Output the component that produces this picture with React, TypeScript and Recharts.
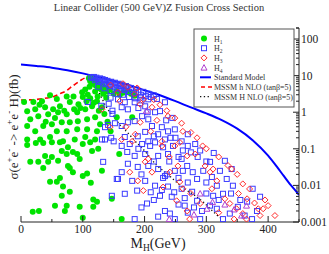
import { ComposedChart, Line, Scatter, XAxis, YAxis } from 'recharts'

const W = 329
const H = 254
const FONT = '"Liberation Serif", "DejaVu Serif", serif'

// axis ticks
const massTicks = [0, 50, 100, 150, 200, 250, 300, 350, 400, 450]
const massLabels = [0, 100, 200, 300, 400]
const sigmaMajor = [0.001, 0.01, 0.1, 1, 10, 100]
const sigmaTicks: number[] = []
sigmaMajor.forEach((d) => {
  for (let m = 1; m <= 9; m++) {
    const v = +(m * d).toPrecision(3)
    if (v <= 200) sigmaTicks.push(v)
  }
})
sigmaTicks.push(200)

// curves
const smMass = [0, 25, 50, 75, 100, 125, 150, 175, 200, 225, 250, 275, 300, 325, 350, 375, 400, 415, 425, 435, 442, 450]
const smSigma = [20, 18.3, 16.5, 14, 11.5, 9.2, 7.2, 5.5, 4.0, 2.9, 2.0, 1.35, 0.93, 0.61, 0.356, 0.172, 0.065, 0.031, 0.0184, 0.011, 0.008, 0.0055]
const mssmhMass = [0, 20, 42, 52, 63, 74, 80, 90, 98, 105, 110]
const mssmhSigma = [2.15, 2.2, 2.45, 2.65, 3.2, 3.9, 4.7, 6.2, 7.7, 8.9, 9.8]
const mssmHMass = [112, 118, 125, 131, 138, 145, 152, 160, 168, 175, 185, 195, 205, 220, 235, 250, 265, 280, 295, 310, 322]
const mssmHSigma = [9.5, 6, 3.8, 2.4, 1.4, 0.95, 0.7, 0.45, 0.33, 0.25, 0.16, 0.11, 0.07, 0.035, 0.022, 0.013, 0.008, 0.0055, 0.0035, 0.002, 0.0013]

// scan points [mass, sigma]
const h1Points = [
  [5, 1.9], [20, 1.9], [34, 2.0], [47, 2.9], [58, 2.3], [74, 2.7], [85, 2.7], [99, 3.5], [104, 4.2], [111, 5],
  [117, 6.5], [115, 7.8], [120, 3.7], [124, 2.7], [106, 2], [93, 1.65], [79, 1.9], [63, 1.45], [52, 1.2], [39, 1.37],
  [23, 1.2], [10, 1.07], [15, 0.64], [28, 0.78], [44, 0.88], [60, 1], [74, 0.88], [91, 1], [104, 1.2], [115, 1.45],
  [123, 2], [131, 1.37], [10, 0.42], [23, 0.3], [36, 0.42], [50, 0.47], [66, 0.53], [79, 0.53], [92, 0.57], [107, 0.64],
  [120, 0.73], [128, 0.47], [58, 0.3], [74, 0.3], [91, 0.34], [107, 0.34], [123, 0.3], [10, 0.18], [31, 0.18], [47, 0.21],
  [68, 0.16], [87, 0.18], [104, 0.21], [120, 0.18], [10, 0.127], [24, 0.144], [36, 0.144], [50, 0.15], [63, 0.15], [76, 0.11],
  [84, 0.082], [66, 0.087], [74, 0.072], [91, 0.072], [100, 0.135], [112, 0.15], [115, 0.087], [125, 0.1], [39, 0.064], [50, 0.06],
  [15, 0.044], [28, 0.044], [44, 0.044], [60, 0.047], [95, 0.053], [36, 0.03], [76, 0.034], [79, 0.03], [84, 0.023], [107, 0.021],
  [100, 0.018], [131, 0.025], [63, 0.016], [47, 0.0125], [58, 0.0125], [68, 0.0093], [113, 0.0118], [79, 0.0067], [66, 0.0052], [117, 0.0041],
  [123, 0.0036], [147, 0.0043], [55, 0.0028], [74, 0.0028], [95, 0.0026], [117, 0.0026], [19, 0.0019], [29, 0.002], [71, 0.002], [100, 0.0013],
  [163, 0.0012], [159, 0.072], [155, 0.73], [180, 0.73], [173, 3.7], [110, 8.5], [112, 7], [114, 8.6], [116, 6], [118, 7.6],
  [121, 5.4], [122, 6.6], [126, 4.6], [127, 5.8], [130, 4.2], [132, 5.4], [136, 4.6], [140, 3.6], [144, 4.2], [150, 3.2],
  [155, 3.8], [160, 3], [165, 3.4], [178, 3.2], [184, 2.8], [108, 3], [112, 2.4], [118, 1.8], [126, 1.1], [135, 0.9],
  [140, 0.55], [145, 0.3], [100, 2.6], [96, 1.3], [86, 1.2], [70, 1.1], [55, 0.7], [40, 0.55], [30, 1.6], [138, 2.5], [133, 3.2],
]
const h2Points = [
  [113, 9], [116, 8.5], [118, 9.2], [120, 7.5], [122, 8.8], [124, 8], [126, 6.8], [128, 8.4], [130, 7.2], [132, 8],
  [134, 6.5], [136, 7.6], [138, 5.8], [140, 7.2], [142, 6.6], [144, 5.4], [146, 6.8], [148, 6], [150, 5], [152, 6.4],
  [154, 5.6], [156, 4.6], [158, 6], [160, 5.2], [162, 4.4], [164, 5.6], [166, 4.8], [168, 4], [170, 5.2], [172, 4.4],
  [175, 3.6], [178, 4.6], [180, 4], [183, 3.4], [186, 4.2], [190, 3.6], [194, 3], [198, 3.6], [202, 2.8], [206, 3.2],
  [210, 2.6], [215, 2.9], [220, 2.3], [125, 5], [135, 4.5], [145, 3.8], [155, 3.2], [165, 3], [175, 2.6], [185, 2.4], [195, 2.1],
  [157, 2.25], [168, 1.87], [163, 1.37], [173, 1.2], [184, 1.87], [193, 2.5], [201, 1.45], [206, 2.25], [217, 1.0], [225, 1.07],
  [233, 1.87], [196, 0.78], [206, 0.64], [184, 0.57], [173, 0.53], [163, 0.42], [212, 0.42], [228, 0.39], [238, 0.3], [249, 0.34],
  [201, 0.29], [189, 0.22], [222, 0.25], [233, 0.18], [206, 0.16], [217, 0.15], [168, 0.21], [260, 0.16],
  [163, 0.12], [176, 0.135], [196, 0.135], [209, 0.12], [230, 0.11], [246, 0.12], [270, 0.12], [282, 0.135], [172, 0.082],
  [184, 0.064], [201, 0.072], [222, 0.064], [238, 0.072], [260, 0.053], [286, 0.06], [173, 0.039], [189, 0.032], [206, 0.034], [222, 0.028],
  [233, 0.018], [236, 0.02], [230, 0.016], [249, 0.025], [269, 0.034], [278, 0.023], [163, 0.023], [157, 0.015], [180, 0.0133], [201, 0.0133],
  [217, 0.0098], [238, 0.0093], [260, 0.0081], [277, 0.0067], [188, 0.0072], [168, 0.0059], [204, 0.0032], [225, 0.0052], [244, 0.0049], [233, 0.002],
  [241, 0.0017], [249, 0.0012], [184, 0.0012], [222, 0.0014], [265, 0.0028], [293, 0.002], [285, 0.0038],
  [312, 0.077], [330, 0.047], [306, 0.044], [341, 0.028], [322, 0.025], [333, 0.015], [343, 0.0098], [317, 0.0098], [375, 0.0081], [387, 0.0049],
  [327, 0.0059], [311, 0.0052], [366, 0.0036], [351, 0.0026], [317, 0.0023], [338, 0.0017], [362, 0.0015], [374, 0.0012], [382, 0.002], [306, 0.0028],
  [327, 0.0012], [309, 0.017], [108, 1.9], [130, 1.5], [142, 1.7], [148, 1.1], [136, 0.39], [141, 0.45], [131, 0.18], [136, 0.18],
  [146, 0.2], [133, 0.044], [155, 0.015], [147, 0.0052], [150, 0.16], [148, 0.9], [152, 0.5], [145, 2.5],
  [250, 0.2], [262, 0.09], [255, 0.06], [275, 0.08], [290, 0.09], [300, 0.045], [295, 0.025], [285, 0.015], [270, 0.012], [255, 0.016],
  [248, 0.0065], [265, 0.0045], [280, 0.0025], [300, 0.006], [300, 0.012], [320, 0.004], [340, 0.006], [355, 0.004], [290, 0.0012], [270, 0.0018],
  [255, 0.003], [215, 0.004], [210, 0.0065], [195, 0.0025], [195, 0.02], [215, 0.045], [240, 0.045], [228, 0.0075], [262, 0.025], [215, 0.22],
  [242, 0.2], [270, 0.25], [190, 0.1], [205, 1.0], [190, 1.3], [235, 0.6], [245, 0.7],
]
const h3Points = [
  [173, 4.8], [184, 3.1], [198, 2.25], [212, 1.37], [193, 1.65], [238, 0.78], [249, 0.69], [157, 3.5], [163, 0.18], [180, 0.16],
  [262, 0.3], [228, 0.16], [193, 0.53], [131, 1.2], [144, 0.39], [160, 2], [201, 0.044], [206, 0.053], [176, 0.023], [189, 0.0133],
  [198, 0.0072], [212, 0.023], [241, 0.023], [254, 0.034], [269, 0.064], [282, 0.072], [294, 0.12], [298, 0.034], [306, 0.023], [257, 0.0125],
  [262, 0.0081], [252, 0.0038], [269, 0.002], [273, 0.0012], [290, 0.0032], [228, 0.12], [249, 0.12], [257, 0.15], [311, 0.028], [341, 0.028],
  [359, 0.011], [366, 0.0043], [317, 0.0133], [338, 0.0032], [349, 0.0023], [384, 0.0023], [392, 0.0023], [411, 0.0015], [387, 0.0015], [359, 0.0017],
  [309, 0.0081], [330, 0.0043], [145, 5.5], [165, 6], [188, 4.6], [215, 2.2], [225, 1.6], [236, 1.1], [260, 0.5], [275, 0.28],
  [285, 0.2], [300, 0.1], [320, 0.06], [335, 0.035], [350, 0.02], [370, 0.008], [395, 0.004], [400, 0.0028], [220, 0.6], [210, 0.3],
  [185, 0.25], [170, 0.4], [240, 0.06], [230, 0.009], [275, 0.006], [320, 0.0018], [345, 0.0012], [365, 0.0012], [378, 0.0033], [352, 0.006],
]
const h4Points = [
  [301, 0.0023], [357, 0.0015], [345, 0.0022], [330, 0.003], [280, 0.0016], [310, 0.0035], [365, 0.0028], [290, 0.006], [240, 0.0012], [203, 1.1],
]

const toXY = (pts: number[][]) => pts.map(([x, y]) => ({ x, y }))
const zipXY = (xs: number[], ys: number[]) => xs.map((x, i) => ({ x, y: ys[i] }))

const Dot = (p: any) => <circle cx={p.cx} cy={p.cy} r={3} fill="#00e400" />
const Square = (p: any) => (
  <rect x={p.cx - 2.5} y={p.cy - 2.5} width={5} height={5} fill="none" stroke="#3c3cff" strokeWidth={1} />
)
const Diamond = (p: any) => (
  <path d={`M${p.cx},${p.cy - 3}L${p.cx + 3},${p.cy}L${p.cx},${p.cy + 3}L${p.cx - 3},${p.cy}Z`} fill="none" stroke="#ff2a2a" strokeWidth={1} />
)
const Triangle = (p: any) => (
  <path d={`M${p.cx},${p.cy - 3}L${p.cx + 3},${p.cy + 2.5}L${p.cx - 3},${p.cy + 2.5}Z`} fill="none" stroke="#b040d0" strokeWidth={1} />
)

const isMajor = (v: number) => sigmaMajor.includes(v)

const RightTick = (p: any) => {
  const v = p.payload.value
  const major = isMajor(v)
  return (
    <g>
      <line x1={p.x} x2={p.x - (major ? 6 : 3)} y1={p.y} y2={p.y} stroke="#222" />
      {major && (
        <text x={p.x + 2} y={p.y + 4} fontSize={11.5} fontFamily={FONT} fill="#222">
          {String(v)}
        </text>
      )}
    </g>
  )
}

const LeftTick = (p: any) => {
  const major = isMajor(p.payload.value)
  return <line x1={p.x} x2={p.x + (major ? 6 : 3)} y1={p.y} y2={p.y} stroke="#222" />
}

const BottomTick = (p: any) => {
  const v = p.payload.value
  const major = v % 100 === 0
  return (
    <g>
      <line x1={p.x} x2={p.x} y1={p.y} y2={p.y - (major ? 6 : 3)} stroke="#222" />
      {massLabels.includes(v) && (
        <text x={p.x} y={p.y + 11} textAnchor="middle" fontSize={11.5} fontFamily={FONT} fill="#222">
          {v}
        </text>
      )}
    </g>
  )
}

const TopTick = (p: any) => {
  const major = p.payload.value % 100 === 0
  return <line x1={p.x} x2={p.x} y1={p.y} y2={p.y + (major ? 6 : 3)} stroke="#222" />
}

const legendRows = [
  { key: 'H', sub: '1', kind: 'dot' },
  { key: 'H', sub: '2', kind: 'square' },
  { key: 'H', sub: '3', kind: 'diamond' },
  { key: 'H', sub: '4', kind: 'triangle' },
  { key: 'Standard Model', sub: '', kind: 'sm' },
  { key: 'MSSM h NLO (tanβ=5)', sub: '', kind: 'h' },
  { key: 'MSSM H NLO (tanβ=5)', sub: '', kind: 'H' },
]

function LegendBox() {
  return (
    <g>
      <rect x={194} y={29} width={100} height={78} fill="#fff" stroke="#555" strokeWidth={1} />
      {legendRows.map((r, i) => {
        const y = 38.5 + i * 9.7
        const cx = 204
        let mark = null
        if (r.kind === 'dot') mark = <Dot cx={cx} cy={y} />
        if (r.kind === 'square') mark = <Square cx={cx} cy={y} />
        if (r.kind === 'diamond') mark = <Diamond cx={cx} cy={y} />
        if (r.kind === 'triangle') mark = <Triangle cx={cx} cy={y} />
        if (r.kind === 'sm') mark = <line x1={200} x2={211} y1={y} y2={y} stroke="#0000ff" strokeWidth={2} />
        if (r.kind === 'h') mark = <line x1={201} x2={212} y1={y} y2={y} stroke="#ff0000" strokeWidth={1.6} strokeDasharray="4 3" />
        if (r.kind === 'H') mark = <line x1={200} x2={211} y1={y} y2={y} stroke="#111" strokeWidth={1.3} strokeDasharray="1.3 2.5" />
        return (
          <g key={i}>
            {mark}
            <text x={214} y={y + 3} fontSize={8} fontFamily={FONT} fill="#333">
              {r.key}
              {r.sub && (
                <tspan dy={2} fontSize={5.5}>
                  {r.sub}
                </tspan>
              )}
            </text>
          </g>
        )
      })}
    </g>
  )
}

export default function App() {
  return (
    <div style={{ position: 'absolute', left: 0, top: 0, width: W, height: H, background: '#fff' }}>
      <ComposedChart width={W} height={H} margin={{ top: 28, right: 0, bottom: 0, left: 21 }}>
        <XAxis
          dataKey="x"
          type="number"
          domain={[0, 450]}
          ticks={massTicks}
          interval={0}
          allowDataOverflow
          height={32}
          tickSize={0}
          tickMargin={0}
          tickLine={false}
          axisLine={{ stroke: '#222' }}
          tick={BottomTick}
        />
        <XAxis
          xAxisId="top"
          dataKey="x"
          type="number"
          orientation="top"
          domain={[0, 450]}
          ticks={massTicks}
          interval={0}
          allowDataOverflow
          height={0}
          tickSize={0}
          tickMargin={0}
          tickLine={false}
          axisLine={{ stroke: '#222' }}
          tick={TopTick}
        />
        <YAxis
          yAxisId="r"
          dataKey="y"
          orientation="right"
          scale="log"
          type="number"
          domain={[0.001, 200]}
          ticks={sigmaTicks}
          interval={0}
          allowDataOverflow
          width={30}
          tickSize={0}
          tickMargin={0}
          tickLine={false}
          axisLine={{ stroke: '#222' }}
          tick={RightTick}
        />
        <YAxis
          yAxisId="l"
          dataKey="y"
          orientation="left"
          scale="log"
          type="number"
          domain={[0.001, 200]}
          ticks={sigmaTicks}
          interval={0}
          allowDataOverflow
          width={0}
          tickSize={0}
          tickMargin={0}
          tickLine={false}
          axisLine={{ stroke: '#222' }}
          tick={LeftTick}
        />
        <Scatter yAxisId="r" data={toXY(h1Points)} shape={Dot} isAnimationActive={false} />
        <Scatter yAxisId="r" data={toXY(h2Points)} shape={Square} isAnimationActive={false} />
        <Scatter yAxisId="r" data={toXY(h3Points)} shape={Diamond} isAnimationActive={false} />
        <Scatter yAxisId="r" data={toXY(h4Points)} shape={Triangle} isAnimationActive={false} />
        <Line
          yAxisId="r"
          data={zipXY(mssmHMass, mssmHSigma)}
          dataKey="y"
          type="monotone"
          dot={false}
          stroke="#111"
          strokeWidth={1.3}
          strokeDasharray="1.3 2.5"
          isAnimationActive={false}
        />
        <Line
          yAxisId="r"
          data={zipXY(mssmhMass, mssmhSigma)}
          dataKey="y"
          type="monotone"
          dot={false}
          stroke="#ff0000"
          strokeWidth={1.6}
          strokeDasharray="5 3"
          isAnimationActive={false}
        />
        <Line
          yAxisId="r"
          data={zipXY(smMass, smSigma)}
          dataKey="y"
          type="monotone"
          dot={false}
          stroke="#0000ff"
          strokeWidth={2}
          isAnimationActive={false}
        />
      </ComposedChart>
      <svg width={W} height={H} style={{ position: 'absolute', left: 0, top: 0, pointerEvents: 'none' }}>
        <text x={159} y={11} textAnchor="middle" fontSize={10.5} fontFamily={FONT} fill="#333">
          Linear Collider (500 GeV)Z Fusion Cross Section
        </text>
        <text transform="translate(18,127) rotate(-90)" textAnchor="middle" fontSize={13} fontFamily={FONT} fill="#222">
          σ(e<tspan dy={-6} fontSize={9}>+</tspan>
          <tspan dy={6}>e</tspan>
          <tspan dy={-6} fontSize={9}>-</tspan>
          <tspan dy={6}> -&gt; e</tspan>
          <tspan dy={-6} fontSize={9}>+</tspan>
          <tspan dy={6}>e</tspan>
          <tspan dy={-6} fontSize={9}>-</tspan>
          <tspan dy={6}> H)(fb)</tspan>
        </text>
        <text x={158} y={248} textAnchor="middle" fontSize={14} fontFamily={FONT} fill="#222">
          M<tspan dy={3} fontSize={9.5}>H</tspan>
          <tspan dy={-3}>(GeV)</tspan>
        </text>
        <LegendBox />
      </svg>
    </div>
  )
}
